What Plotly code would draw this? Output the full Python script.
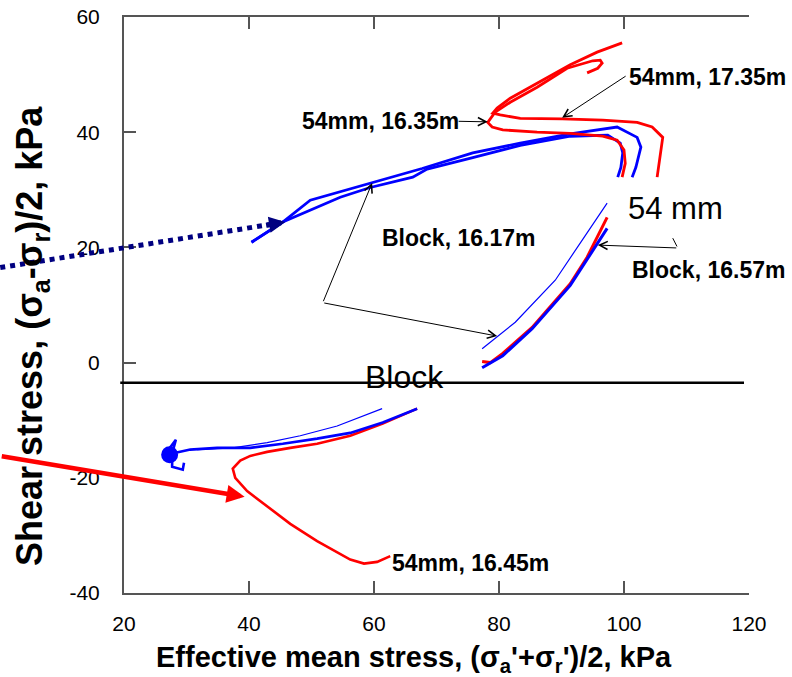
import plotly.graph_objects as go

# ---------------- data (kPa) ----------------
# upper branches (positive shear)
blk1617_x = [40.4, 45.4, 49.8, 59.8, 67.7, 75.8, 83.4, 91.4, 98.9, 102.1, 102.7, 101.9, 101.3]
blk1617_y = [20.9, 24.4, 28.2, 31.3, 33.7, 36.4, 38.1, 39.7, 40.9, 39.1, 37.4, 33.9, 32.2]
blk1657_x = [40.4, 45.4, 54.6, 59.4, 66.2, 68.5, 75.8, 83.4, 91.4, 97.4, 99.4, 99.8, 99.5, 99.0]
blk1657_y = [20.9, 24.4, 28.7, 30.4, 32.2, 33.6, 35.6, 37.7, 39.3, 39.5, 38.1, 36.4, 33.9, 32.2]
mm1635_x = [94.1, 95.8, 96.5, 96.2, 95.0, 90.9, 86.1, 81.8, 79.4, 78.6, 78.2, 78.9, 80.6,
            86.1, 91.4, 96.6, 98.9, 100.0, 100.2, 99.7]
mm1635_y = [50.3, 51.1, 52.0, 52.5, 52.4, 51.1, 47.8, 45.2, 43.5, 42.4, 41.7, 40.9, 40.4,
            40.0, 39.8, 39.3, 38.6, 36.9, 34.6, 32.2]
mm1735_x = [99.7, 95.7, 91.4, 86.1, 81.8, 79.7, 79.0, 80.2, 83.4, 90.1, 96.6, 102.1, 104.5,
            106.2, 105.8, 105.3]
mm1735_y = [55.5, 53.9, 51.7, 48.5, 45.9, 44.2, 43.3, 43.0, 42.4, 42.3, 42.1, 41.7, 40.9,
            39.1, 35.7, 32.2]

# lower-middle pasted part
thin_mid_x = [97.3, 89.0, 82.6, 77.3]
thin_mid_y = [27.7, 14.3, 7.0, 2.4]
red_mid_x = [97.3, 94.1, 91.4, 85.3, 80.6, 78.6, 77.3]
red_mid_y = [25.2, 18.3, 13.7, 6.1, 1.6, 0.0, 0.2]
blue_mid_x = [97.3, 95.0, 91.4, 85.3, 80.6, 77.3]
blue_mid_y = [23.3, 19.5, 13.4, 5.9, 1.2, -0.9]

# lower part (negative shear)
thin_low_x = [61.3, 54.1, 48.2, 42.9, 37.4, 31.7]
thin_low_y = [-8.0, -11.0, -12.7, -13.9, -14.8, -15.1]
blue_low_x = [66.9, 61.4, 56.2, 50.9, 45.4, 40.2, 34.9, 30.6, 27.7, 28.3, 27.2, 26.6, 27.7,
              27.7, 29.4, 29.6]
blue_low_y = [-8.0, -10.4, -12.2, -13.2, -14.1, -14.8, -14.8, -15.1, -15.8, -13.4, -15.0,
              -16.5, -16.6, -18.1, -18.6, -17.4]
blob_x = [27.3]
blob_y = [-16.0]
red_low_x = [66.9, 61.4, 56.2, 50.9, 46.6, 42.9, 40.2, 38.6, 37.4, 37.8, 39.7, 42.9, 46.6,
             50.9, 54.6, 56.2, 58.4, 60.5, 62.6]
red_low_y = [-8.0, -10.6, -12.7, -14.1, -14.8, -15.5, -16.2, -17.0, -18.4, -20.0, -22.3,
             -24.9, -28.0, -31.0, -33.2, -34.2, -34.9, -34.6, -33.6]

block_line_x = [19.4, 119.2]
block_line_y = [-3.5, -3.5]

# loading arrows (tail -> head)
dotted_x = [0.2, 43.5]
dotted_y = [16.5, 24.0]
dotted_head = (45.8, 24.4)
red_arrow_tail = (0.2, -16.2)
red_arrow_head = (39.3, -23.3)

# label pointers (tail, head)
pointers = [
    ((100.5, 49.9), (90.1, 42.5)),    # 54mm, 17.35m
    ((73.3, 41.9), (78.2, 41.8)),     # 54mm, 16.35m
    ((51.8, 10.4), (59.7, 31.2)),     # Block, 16.17m (upper)
    ((51.8, 10.4), (79.7, 4.6)),      # Block, 16.17m (lower)
    ((108.6, 19.9), (95.8, 20.4)),    # Block, 16.57m
]
pointer_tick = ((108.6, 19.9), (107.8, 21.6))

labels = [
    ("<b>54mm, 17.35m</b>", 100.5, 49.6, "left", 23),
    ("<b>54mm, 16.35m</b>", 73.9, 41.9, "right", 23),
    ("<b>Block, 16.17m</b>", 60.9, 21.6, "left", 23),
    ("<b>Block, 16.57m</b>", 100.9, 16.1, "left", 23),
    ("<b>54mm, 16.45m</b>", 62.6, -34.8, "left", 23),
    ("54 mm", 100.3, 26.8, "left", 31),
    ("Block", 58.2, -2.5, "left", 32),
]

x_ticks = [20, 40, 60, 80, 100, 120]
y_ticks = [-40, -20, 0, 20, 40, 60]
y_ticktext = ["-40", "-20", "0", "20", "40", "60"]

# ---------------- layout geometry ----------------
W, H = 792, 677
PL, PR, PT, PB = 124, 749, 17, 593
X_RANGE = [20, 120]
Y_RANGE = [-40, 60]
kx = (PR - PL) / (X_RANGE[1] - X_RANGE[0])
ky = (PB - PT) / (Y_RANGE[1] - Y_RANGE[0])
X2_RANGE = [X_RANGE[0] - PL / kx, X_RANGE[1] + (W - PR) / kx]
Y2_RANGE = [Y_RANGE[0] - (H - PB) / ky, Y_RANGE[1] + PT / ky]

FONT = "Liberation Sans, Arial, sans-serif"
AX = "#555555"
RED = "#ff0000"
BLUE = "#0000ff"

fig = go.Figure()


def line(x, y, color, width, ax="x", ay="y"):
    fig.add_trace(go.Scatter(x=x, y=y, mode="lines", xaxis=ax, yaxis=ay,
                             line=dict(color=color, width=width), showlegend=False,
                             hoverinfo="skip"))


line(blk1617_x, blk1617_y, BLUE, 2.8)
line(blk1657_x, blk1657_y, BLUE, 2.8)
line(mm1635_x, mm1635_y, RED, 2.8)
line(mm1735_x, mm1735_y, RED, 2.8)
line(thin_mid_x, thin_mid_y, BLUE, 1.2)
line(red_mid_x, red_mid_y, RED, 3)
line(blue_mid_x, blue_mid_y, BLUE, 3)
line(thin_low_x, thin_low_y, BLUE, 1.2)
line(red_low_x, red_low_y, RED, 2.6)
line(blue_low_x, blue_low_y, BLUE, 2.6)
fig.add_trace(go.Scatter(x=blob_x, y=blob_y, mode="markers", showlegend=False,
                         marker=dict(color=BLUE, size=17, symbol="circle"), hoverinfo="skip"))

# full-figure overlay axes for elements leaving the plot box
line(block_line_x, block_line_y, "black", 2.5, "x2", "y2")
fig.add_trace(go.Scatter(x=dotted_x, y=dotted_y, mode="lines", xaxis="x2", yaxis="y2",
                         line=dict(color="#000080", width=5, dash="dot"), showlegend=False,
                         hoverinfo="skip"))

annotations = []
annotations.append(dict(x=dotted_head[0], y=dotted_head[1], ax=dotted_x[1] - 1.0,
                        ay=dotted_y[1] - 0.2, xref="x2", yref="y2", axref="x2", ayref="y2",
                        text="", showarrow=True, arrowhead=2, arrowsize=0.65, arrowwidth=5,
                        arrowcolor="#000080"))
annotations.append(dict(x=red_arrow_head[0], y=red_arrow_head[1], ax=red_arrow_tail[0],
                        ay=red_arrow_tail[1], xref="x2", yref="y2", axref="x2", ayref="y2",
                        text="", showarrow=True, arrowhead=2, arrowsize=0.8, arrowwidth=4.5,
                        arrowcolor=RED))
for (tx, ty), (hx, hy) in pointers:
    annotations.append(dict(x=hx, y=hy, ax=tx, ay=ty, xref="x2", yref="y2", axref="x2",
                            ayref="y2", text="", showarrow=True, arrowhead=5, arrowsize=1.6,
                            arrowwidth=1, arrowcolor="black"))
(tx, ty), (hx, hy) = pointer_tick
annotations.append(dict(x=hx, y=hy, ax=tx, ay=ty, xref="x2", yref="y2", axref="x2",
                        ayref="y2", text="", showarrow=True, arrowhead=0, arrowwidth=1,
                        arrowcolor="black"))
for txt, lx, ly, anchor, size in labels:
    annotations.append(dict(x=lx, y=ly, xref="x2", yref="y2", text=txt, showarrow=False,
                            xanchor=anchor, yanchor="middle",
                            font=dict(family=FONT, size=size, color="black")))

# axis titles
annotations.append(dict(x=414 / W, y=1 - 659 / H, xref="paper", yref="paper",
                        text="<b>Effective mean stress, (σ<sub>a</sub>'+σ<sub>r</sub>')/2, kPa</b>",
                        showarrow=False, xanchor="center", yanchor="middle",
                        font=dict(family=FONT, size=29, color="black")))
annotations.append(dict(x=32 / W, y=1 - 336 / H, xref="paper", yref="paper",
                        text="<b>Shear stress, (σ<sub>a</sub>-σ<sub>r</sub>)/2, kPa</b>",
                        textangle=-90, showarrow=False, xanchor="center", yanchor="middle",
                        font=dict(family=FONT, size=36, color="black")))

common = dict(showgrid=False, zeroline=False, ticks="inside", ticklen=12, tickwidth=1.5,
              tickcolor=AX, showline=True, linecolor=AX, linewidth=2,
              tickfont=dict(family=FONT, size=21, color="black"))

fig.update_layout(
    width=W, height=H, margin=dict(l=0, r=0, t=0, b=0, autoexpand=False),
    paper_bgcolor="white", plot_bgcolor="rgba(0,0,0,0)",
    showlegend=False,
    xaxis=dict(domain=[PL / W, PR / W], range=X_RANGE, anchor="y", tickvals=x_ticks,
               mirror="ticks", ticklabelstandoff=11, automargin=False, **common),
    yaxis=dict(domain=[(H - PB) / H, (H - PT) / H], range=Y_RANGE, anchor="x",
               tickvals=y_ticks, ticktext=y_ticktext, ticklabelstandoff=18,
               automargin=False, **common),
    yaxis3=dict(overlaying="y", side="right", anchor="x", range=[0, 6],
                tickvals=[0, 1, 2, 3, 4, 5, 6], showticklabels=False, showgrid=False,
                zeroline=False, ticks="inside", ticklen=12, tickwidth=1.5, tickcolor=AX,
                showline=True, linecolor=AX, linewidth=1.5, automargin=False),
    xaxis2=dict(domain=[0, 1], range=X2_RANGE, anchor="y2", visible=False, automargin=False),
    yaxis2=dict(domain=[0, 1], range=Y2_RANGE, anchor="x2", visible=False, automargin=False),
    annotations=annotations,
    shapes=[dict(type="rect", xref="paper", yref="paper", x0=738 / W, x1=762 / W,
                 y0=1 - 238 / H, y1=1 - 177 / H, fillcolor="white", line=dict(width=0),
                 layer="above")],
)

fig.write_html("out.html")
